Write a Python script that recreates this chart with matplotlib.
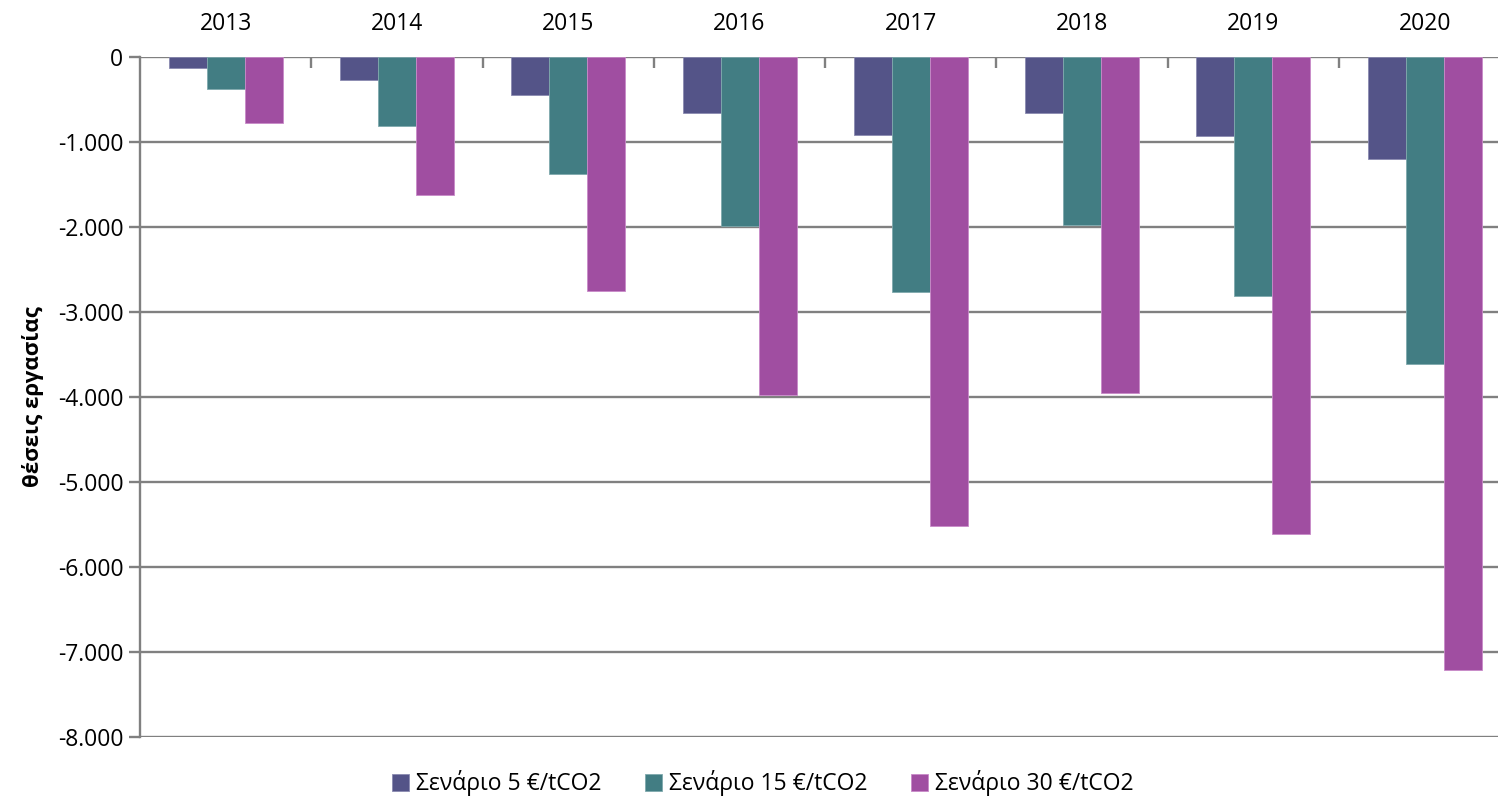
import matplotlib
matplotlib.use('Agg')
import matplotlib.pyplot as plt
from matplotlib.ticker import FuncFormatter, FixedLocator
import numpy as np

years = ['2013', '2014', '2015', '2016', '2017', '2018', '2019', '2020']
labels = ['Σενάριο 5 €/tCO2', 'Σενάριο 15 €/tCO2', 'Σενάριο 30 €/tCO2']

# job places per scenario (negative = losses)
s5 = [-126, -268, -452, -659, -920, -655, -931, -1203]
s15 = [-381, -811, -1373, -1985, -2762, -1976, -2807, -3612]
s30 = [-771, -1621, -2750, -3980, -5520, -3957, -5613, -7217]

colors = ['#545488', '#427D83', '#A04EA1']
edges = ['#8a8ab0', '#7fa9ad', '#c98ac9']

plt.rcParams['font.family'] = ['Open Sans', 'DejaVu Sans']

fig = plt.figure(figsize=(14.98, 8.01), dpi=100)
ax = fig.add_axes([140 / 1498, 1 - 737 / 801, 1358 / 1498, 680 / 801])

x = np.arange(len(years))
w = 0.222
for i, vals in enumerate([s5, s15, s30]):
    ax.bar(x + (i - 1) * w, vals, w, color=colors[i], edgecolor=edges[i],
           linewidth=0.6, label=labels[i], zorder=3)

ax.set_ylim(-8000, 0)
ax.set_xlim(-0.5, -0.5 + 1358 / 171.3)
ax.set_yticks(np.arange(-8000, 1, 1000))
ax.yaxis.set_major_formatter(FuncFormatter(lambda v, p: f'{int(v):,}'.replace(',', '.')))
ax.grid(axis='y', color='#808080', linewidth=1.7, zorder=0)

# year labels on top, tick marks between categories
ax.xaxis.tick_top()
ax.set_xticks(x)
ax.set_xticklabels(years)
ax.xaxis.set_minor_locator(FixedLocator(np.arange(0.5, 7.5, 1)))
ax.tick_params(axis='x', which='major', length=0, labelsize=16.5, pad=15)
ax.tick_params(axis='x', which='minor', length=8, width=1.7, color='#808080',
               direction='in', top=True)
ax.tick_params(axis='y', length=8, width=1.7, color='#808080', labelsize=16.5, pad=4)

for s in ['top', 'right', 'bottom']:
    ax.spines[s].set_visible(False)
ax.spines['left'].set_color('#808080')
ax.spines['left'].set_linewidth(1.7)

ax.set_ylabel('θέσεις εργασίας', fontsize=16, fontweight='bold', labelpad=10)

fig.legend(loc='lower center', bbox_to_anchor=(0.509, -0.02), ncol=3, frameon=False,
           fontsize=16.5, handlelength=0.75, handleheight=0.75, handletextpad=0.3,
           columnspacing=1.9)

fig.savefig('out.png', dpi=100)
